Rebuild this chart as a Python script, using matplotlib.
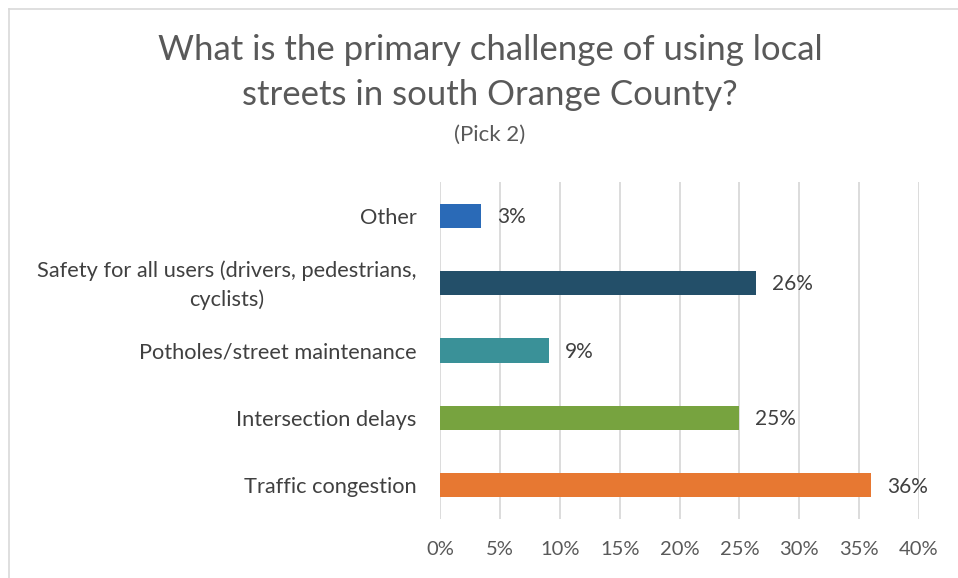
import matplotlib.pyplot as plt
from matplotlib.lines import Line2D
from matplotlib.ticker import MultipleLocator, PercentFormatter
from matplotlib.transforms import offset_copy

plt.rcParams['font.family'] = ['Lato', 'DejaVu Sans']

# Survey results, bottom to top
categories = [
    "Traffic congestion",
    "Intersection delays",
    "Potholes/street maintenance",
    "Safety for all users (drivers, pedestrians,\ncyclists)",
    "Other",
]
shares = [0.360, 0.250, 0.091, 0.264, 0.034]
colors = ["#E77832", "#77A33F", "#3A9198", "#234F69", "#2A6AB7"]

W, H = 958, 578
fig = plt.figure(figsize=(W / 100, H / 100), dpi=100)

# plot area in pixels: x 440..919, y 182..519
ax = fig.add_axes([440 / W, (H - 519) / H, (919 - 440) / W, (519 - 182) / H])

pos = range(len(categories))
ax.barh(pos, shares, height=0.36, color=colors, zorder=3)
ax.set_xlim(0, 0.40)
ax.set_ylim(-0.5, len(categories) - 0.5)

for y, v in zip(pos, shares):
    ax.annotate(f"{round(v * 100):.0f}%", xy=(v, y), xytext=(11.5, -1),
                textcoords="offset points", va="center", ha="left",
                fontsize=15, color="#404040")

ax.xaxis.set_major_locator(MultipleLocator(0.05))
ax.xaxis.set_major_formatter(PercentFormatter(1.0, decimals=0))
ax.grid(axis="x", color="#D9D9D9", linewidth=1.3, zorder=0)
for s in ax.spines.values():
    s.set_visible(False)

# category labels drawn as text so wrapped lines stay centred
ax.set_yticks(list(pos))
ax.set_yticklabels([])
ax.tick_params(axis="y", length=0)
lab_tr = offset_copy(ax.get_yaxis_transform(), fig=fig, x=-17, y=-1.5, units="points")
for y, name in zip(pos, categories):
    ax.text(0, y, name, transform=lab_tr, ha="right", va="center",
            multialignment="center", linespacing=1.45,
            fontsize=15.7, color="#404040")

ax.tick_params(axis="x", length=0, pad=16, labelsize=14.5, labelcolor="#595959")

# titles
fig.text(490 / W, 1 - 50 / H, "What is the primary challenge of using local",
         ha="center", va="center", fontsize=25, color="#595959")
fig.text(490 / W, 1 - 95 / H, "streets in south Orange County?",
         ha="center", va="center", fontsize=25, color="#595959")
fig.text(490 / W, 1 - 135 / H, "(Pick 2)",
         ha="center", va="center", fontsize=16, color="#595959")

# chart frame (top and left edges)
fig.add_artist(Line2D([9 / W, 1], [1 - 9 / H, 1 - 9 / H], color="#D9D9D9", linewidth=1.2))
fig.add_artist(Line2D([9 / W, 9 / W], [0, 1 - 9 / H], color="#D9D9D9", linewidth=1.2))

fig.savefig("out.png", dpi=100)
